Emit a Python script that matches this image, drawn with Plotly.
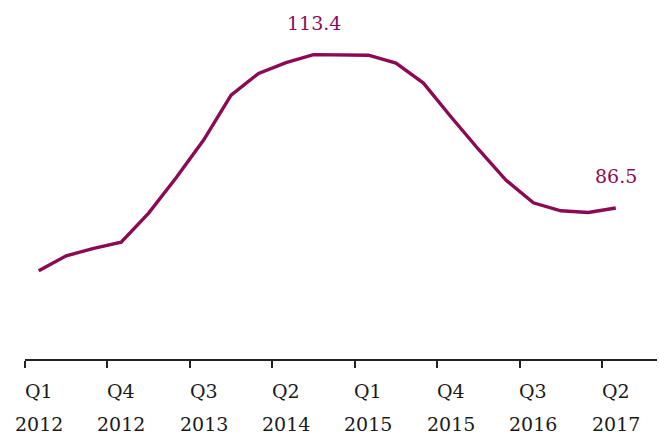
import plotly.graph_objects as go

# Quarterly index, Q1 2012 - Q2 2017
quarters = [f"Q{q} {y}" for y in range(2012, 2018) for q in range(1, 5)][:22]
values = [75.5, 78.1, 79.4, 80.5, 85.6, 91.8, 98.4, 106.3, 110.1, 112.0, 113.4,
          113.4, 113.3, 111.9, 108.4, 102.5, 96.8, 91.4, 87.4, 86.0, 85.7, 86.5]

# Every third quarter gets a two-line label under the axis
label_every = 3
callouts = [10, 21]  # indices of the points whose values are written on the chart

LINE_COLOR = "#8a0a54"
TEXT_COLOR = "#1a1a1a"
FONT = "DejaVu Serif"

x = list(range(len(quarters)))

fig = go.Figure()
fig.add_trace(go.Scatter(
    x=x, y=values, mode="lines",
    line=dict(color=LINE_COLOR, width=3.4),
    hoverinfo="skip", showlegend=False,
))

tick_idx = list(range(0, len(quarters), label_every))

annotations = []
for i in tick_idx:
    q, yr = quarters[i].split(" ")
    annotations.append(dict(x=i, y=0, xref="x", yref="paper", text=q,
                            showarrow=False, yanchor="middle", yshift=-32,
                            font=dict(family=FONT, size=19, color=TEXT_COLOR)))
    annotations.append(dict(x=i, y=0, xref="x", yref="paper", text=yr,
                            showarrow=False, yanchor="middle", yshift=-65,
                            font=dict(family=FONT, size=19, color=TEXT_COLOR)))
for i in callouts:
    annotations.append(dict(x=i, y=values[i], xref="x", yref="y",
                            text=f"{values[i]:.1f}", showarrow=False,
                            yanchor="middle", yshift=32,
                            font=dict(family=FONT, size=19, color=LINE_COLOR)))

fig.update_layout(
    width=659, height=434,
    margin=dict(l=25, r=2, t=17, b=75),
    paper_bgcolor="white", plot_bgcolor="white",
    annotations=annotations,
    xaxis=dict(
        range=[-0.5, len(quarters) + 0.5],
        showgrid=False, zeroline=False,
        showline=True, linecolor="#222", linewidth=2,
        ticks="outside", ticklen=7, tickwidth=2, tickcolor="#222",
        tickmode="array", tickvals=[i - 0.5 for i in tick_idx],
        showticklabels=False,
    ),
    yaxis=dict(range=[60, 120], visible=False, showgrid=False, zeroline=False),
)

fig.write_html("out.html")
